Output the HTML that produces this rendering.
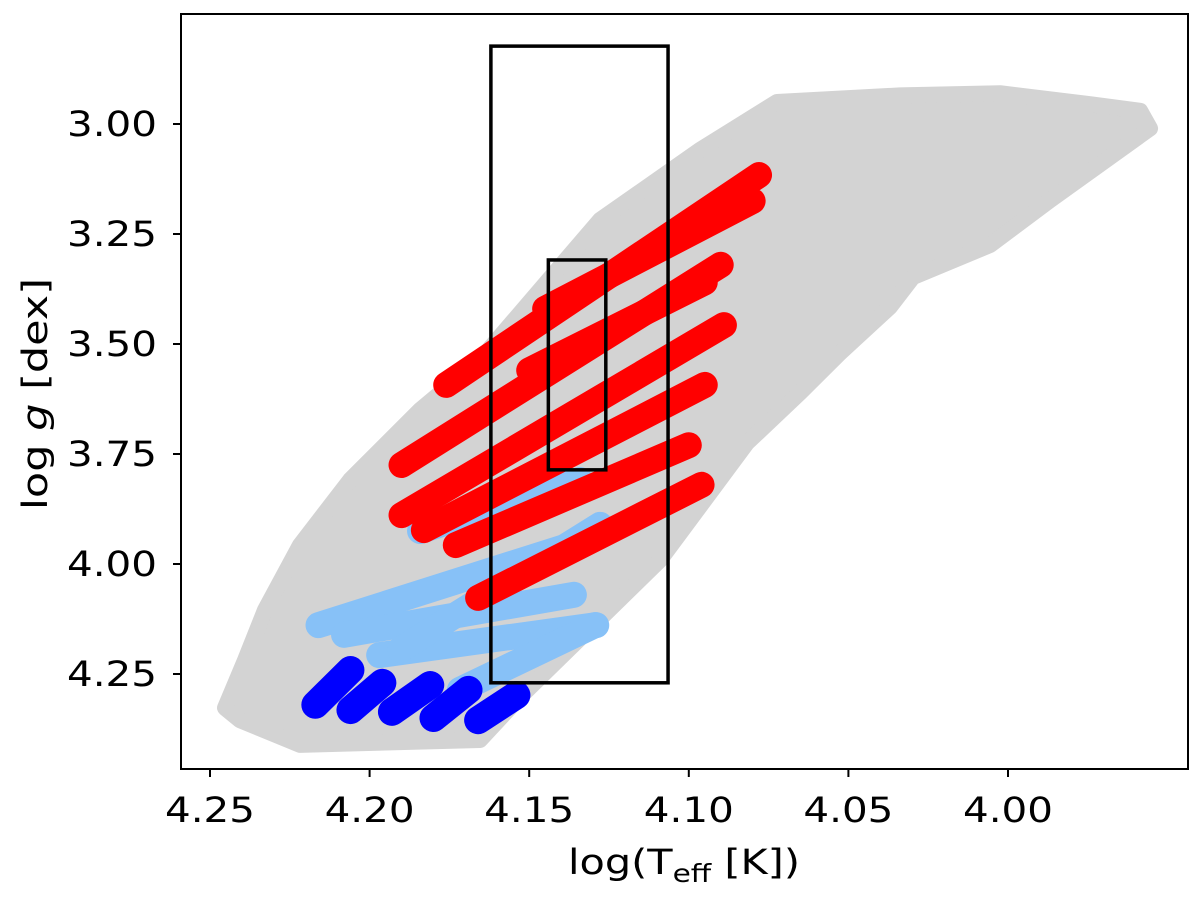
<!DOCTYPE html>
<html><head><meta charset="utf-8"><style>
body{margin:0;background:#fff}
svg text{font-family:"DejaVu Sans","Liberation Sans",sans-serif;fill:#000}
</style></head><body>
<svg id="chart" width="1200" height="897" viewBox="0 0 1200 897" xmlns="http://www.w3.org/2000/svg">
<g id="marks"></g>
<rect x="181" y="14" width="1007" height="755" fill="none" stroke="#000" stroke-width="2"/>
<g id="axes"></g>
<text x="684" y="874" font-size="35" text-anchor="middle" textLength="232" lengthAdjust="spacingAndGlyphs">log(T<tspan font-size="25" dy="8">eff</tspan><tspan dy="-8"> [K])</tspan></text>
<text transform="translate(47,394) rotate(-90)" font-size="35" text-anchor="middle" textLength="232" lengthAdjust="spacingAndGlyphs">log <tspan font-style="italic">g</tspan> [dex]</text>
</svg>
<script>
const xTicks=[4.25,4.20,4.15,4.10,4.05,4.00];
const yTicks=[3.00,3.25,3.50,3.75,4.00,4.25];
const grayEnvelope=[[4.2453,4.327],[4.239,4.218],[4.2328,4.105],[4.2218,3.957],[4.2061,3.809],[4.1842,3.650],[4.1654,3.536],[4.1278,3.218],[4.0965,3.059],[4.0724,2.950],[4.0338,2.935],[4.0025,2.930],[3.9743,2.955],[3.9586,2.970],[3.9555,3.010],[3.9868,3.173],[4.0056,3.275],[4.0298,3.348],[4.0370,3.416],[4.0526,3.520],[4.0652,3.611],[4.0818,3.725],[4.1090,3.991],[4.1538,4.309],[4.1654,4.400],[4.2218,4.411],[4.2406,4.355]];
const redTracks=[[4.176,3.593,4.078,3.116],[4.190,3.775,4.090,3.320],[4.190,3.889,4.089,3.457],[4.183,3.923,4.095,3.593],[4.173,3.957,4.100,3.730],[4.166,4.077,4.096,3.820],[4.145,3.420,4.080,3.175],[4.150,3.560,4.095,3.360]];
const lightBlueTracks=[[4.216,4.139,4.137,3.957],[4.208,4.161,4.136,4.070],[4.197,4.207,4.129,4.139],[4.1842,3.925,4.1341,3.809],[4.1905,4.195,4.1278,3.911],[4.1717,4.286,4.1294,4.139]];
const blueTracks=[[4.217,4.320,4.206,4.241],[4.206,4.332,4.196,4.270],[4.193,4.336,4.181,4.275],[4.180,4.350,4.169,4.286],[4.166,4.355,4.154,4.298]];
const bigBox=[4.162,4.1065,2.823,4.270];
const smallBox=[4.144,4.126,3.309,3.786];
const xs=v=>210+(4.25-v)/0.05*159.6;
const ys=v=>124+(v-3.0)/0.25*110;
const NS="http://www.w3.org/2000/svg";
const marks=document.getElementById('marks'),axes=document.getElementById('axes');
function mk(p,tag,attrs){const e=document.createElementNS(NS,tag);for(const k in attrs)e.setAttribute(k,attrs[k]);p.appendChild(e);return e;}
const env=mk(marks,'polygon',{points:grayEnvelope.map(p=>xs(p[0])+','+ys(p[1])).join(' '),fill:'#d3d3d3',stroke:'#d3d3d3','stroke-width':16,'stroke-linejoin':'round'});


function tracks(arr,color,name,w){arr.forEach((t,i)=>{const l=mk(marks,'line',{x1:xs(t[0]),y1:ys(t[1]),x2:xs(t[2]),y2:ys(t[3]),stroke:color,'stroke-width':w,'stroke-linecap':'round'});

});}
tracks(lightBlueTracks,'#87c1f7','lightblue-track',26);
tracks(redTracks,'#ff0000','red-track',26);
tracks(blueTracks,'#0000ff','blue-track',28);
function box(b,name){const r=mk(marks,'rect',{x:xs(b[0]),y:ys(b[2]),width:xs(b[1])-xs(b[0]),height:ys(b[3])-ys(b[2]),fill:'none',stroke:'#000','stroke-width':3.5});

}
box(bigBox,'selection-box-large');box(smallBox,'selection-box-small');
xTicks.forEach(v=>{const x=xs(v);mk(axes,'line',{x1:x,y1:769,x2:x,y2:777,stroke:'#000','stroke-width':2});
const t=mk(axes,'text',{x:x,y:822,'font-size':35,'text-anchor':'middle',textLength:90,lengthAdjust:'spacingAndGlyphs'});t.textContent=v.toFixed(2);

});
yTicks.forEach(v=>{const y=ys(v);mk(axes,'line',{x1:173,y1:y,x2:181,y2:y,stroke:'#000','stroke-width':2});
const t=mk(axes,'text',{x:157,y:y+12,'font-size':35,'text-anchor':'end',textLength:90,lengthAdjust:'spacingAndGlyphs'});t.textContent=v.toFixed(2);

});
</script>
</body></html>
